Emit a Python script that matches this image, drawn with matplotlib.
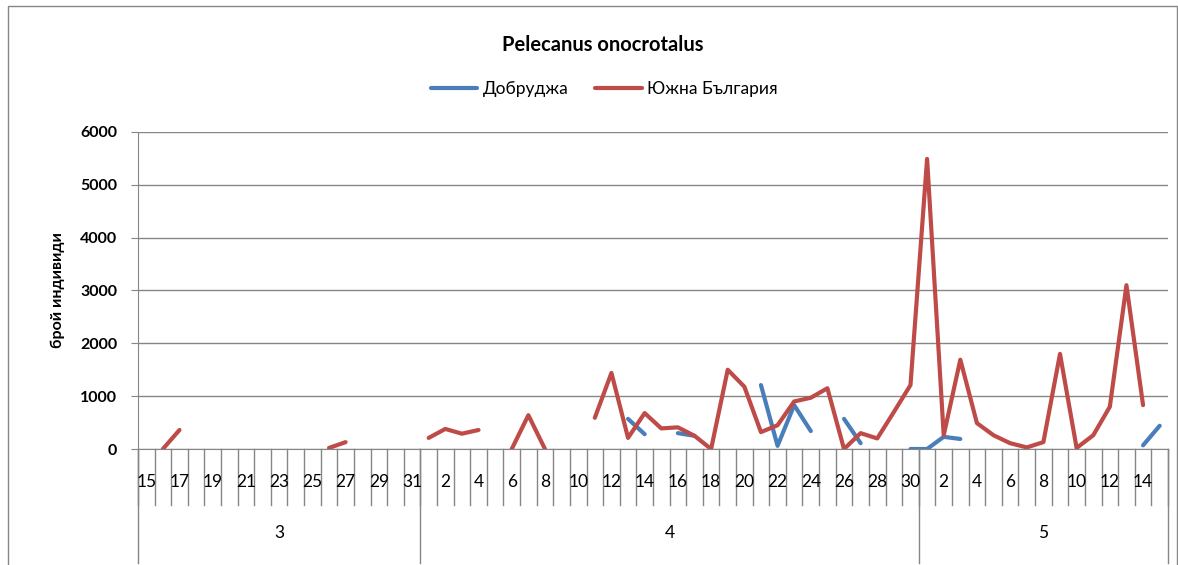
import numpy as np
import matplotlib.pyplot as plt
from matplotlib.patches import Rectangle

plt.rcParams['font.family'] = ['Lato', 'DejaVu Sans']

nan = np.nan

# day of month for every category (15 March - 15 May)
days = list(range(15, 32)) + list(range(1, 31)) + list(range(1, 16))
months = ['3', '4', '5']
month_len = [17, 30, 15]

# Добруджа
dobrudzha = [nan]*29 + [570, 280, nan, 300, 250, nan, nan, nan, 1210, 60, 830, 340, nan,
                        570, 110, nan, nan, 0, 0, 230, 190] + [nan]*10 + [70, 440]

# Южна България
south_bg = [nan, 0, 360] + [nan]*8 + [20, 130] + [nan]*4 + \
           [210, 380, 290, 360, nan, 0, 640, 0, nan, nan,
            590, 1440, 210, 680, 390, 410, 250, 0, 1500, 1180,
            320, 450, 900, 970, 1150, 0, 300, 200, 700, 1210,
            5490, 260, 1690, 490, 260, 110, 30, 130, 1800, 20,
            260, 800, 3100, 830, nan]

blue = '#4A7EBB'
red = '#BE4B48'
grey = '#868686'

fig = plt.figure(figsize=(11.78, 5.65), dpi=100)
ax = fig.add_axes([0.1171, 0.2053, 0.8744, 0.5611])

x = np.arange(len(days))
ax.plot(x, dobrudzha, color=blue, lw=3, label='Добруджа', solid_capstyle='round')
ax.plot(x, south_bg, color=red, lw=3, label='Южна България', solid_capstyle='round')

ax.set_xlim(-0.5, len(days) - 0.5)
ax.set_ylim(0, 6000)
ax.set_yticks(np.arange(0, 6001, 1000))
ax.yaxis.grid(True, color=grey, lw=1)
ax.set_axisbelow(True)
for s in ['top', 'right']:
    ax.spines[s].set_visible(False)
ax.spines['left'].set_color(grey)
ax.spines['bottom'].set_color(grey)
ax.tick_params(axis='y', length=5, color=grey, labelsize=11.5, pad=10)
for t in ax.get_yticklabels():
    t.set_fontweight('bold')
ax.set_ylabel('брой индивиди', fontsize=11.5, fontweight='bold', labelpad=11)

# category axis drawn by hand: day row and month row
ax.set_xticks([])
trans = ax.get_xaxis_transform()
for k in range(len(days) + 1):
    ax.plot([k - 0.5, k - 0.5], [0, -0.177], transform=trans, color=grey, lw=1, clip_on=False)
for i, d in enumerate(days):
    if i % 2 == 0:
        ax.text(i, -0.104, str(d), transform=trans, ha='center', va='center', fontsize=12.5)
start = 0
for m, n in zip(months, month_len):
    ax.plot([start - 0.5, start - 0.5], [0, -0.36], transform=trans, color=grey, lw=1, clip_on=False)
    ax.text(start + n / 2 - 0.5, -0.265, m, transform=trans, ha='center', va='center', fontsize=12.5)
    start += n
ax.plot([start - 0.5, start - 0.5], [0, -0.36], transform=trans, color=grey, lw=1, clip_on=False)

fig.text(0.512, 0.92, 'Pelecanus onocrotalus', ha='center', va='center', fontsize=14.5,
         fontweight='bold', fontstyle='normal')
fig.legend(loc='center', bbox_to_anchor=(0.513, 0.843), ncol=2, frameon=False,
           handlelength=2.7, handletextpad=0.3, columnspacing=1.55, prop={'size': 12.5})

fig.patches.append(Rectangle((0.007, -0.01), 0.992, 1.0, transform=fig.transFigure,
                             fill=False, edgecolor=grey, lw=1))

fig.savefig('out.png', dpi=100)
